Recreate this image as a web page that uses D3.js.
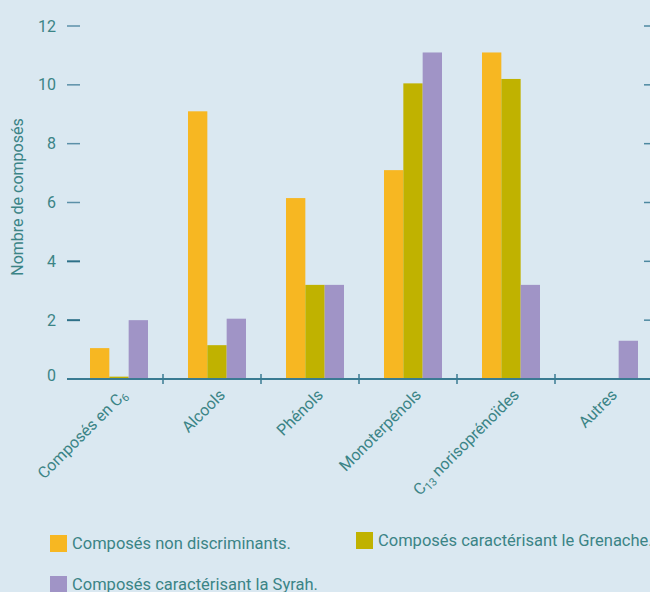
<!DOCTYPE html>
<html>
<head>
<meta charset="utf-8">
<script src="https://cdn.jsdelivr.net/npm/d3@7.9.0/dist/d3.min.js"></script>
<style>
  body { margin: 0; background: #dae8f1; }
  svg { display: block; font-family: Roboto, "Open Sans", sans-serif; }
</style>
</head>
<body>
<svg id="chart" width="650" height="592"></svg>
<script>
// categories and series
const categories = ['C6', 'Alcools', 'Phénols', 'Monoterpénols', 'C13', 'Autres'];
const nonDiscriminants = [1.05, 9.1, 6.15, 7.1, 11.1, 0];
const grenache = [0.08, 1.15, 3.2, 10.05, 10.2, 0];
const syrah = [2.0, 2.05, 3.2, 11.1, 3.2, 1.3];
const yTicks = [0, 2, 4, 6, 8, 10, 12];

const seriesNames = ['Composés non discriminants.', 'Composés caractérisant le Grenache.', 'Composés caractérisant la Syrah.'];
const colors = ['#f7b722', '#c0b200', '#a094c6'];
const textColor = '#3b8486';
const axisColor = '#3a7b92';

const svg = d3.select('#chart');
svg.append('rect').attr('width', 650).attr('height', 592).attr('fill', '#dae8f1');

const x0 = d3.scaleBand().domain(categories).range([67, 655]).paddingInner(0).paddingOuter(0);
const x1 = d3.scaleBand().domain([0, 1, 2]).range([23, 81]);
const y = d3.scaleLinear().domain([0, 12]).range([379, 26]);

const series = [nonDiscriminants, grenache, syrah];

// bars
series.forEach((vals, s) => {
  svg.append('g').selectAll('rect')
    .data(vals)
    .join('rect')
      .attr('x', (d, i) => x0(categories[i]) + x1(s))
      .attr('width', x1.bandwidth())
      .attr('y', d => y(d))
      .attr('height', d => y(0) - y(d))
      .attr('fill', colors[s]);
});

// left axis ticks
const yAxis = svg.append('g');
yTicks.forEach(t => {
  if (t > 0) {
    yAxis.append('line')
      .attr('x1', 67).attr('x2', 80)
      .attr('y1', y(t)).attr('y2', y(t))
      .attr('stroke', t <= 4 ? '#2d7088' : '#5b90a8')
      .attr('stroke-width', t <= 4 ? 2 : 1.5);
    yAxis.append('line')
      .attr('x1', 644).attr('x2', 650)
      .attr('y1', y(t)).attr('y2', y(t))
      .attr('stroke', '#4c88a0').attr('stroke-width', 1.5);
  }
  yAxis.append('text')
    .attr('x', 56).attr('y', t === 0 ? y(t) - 4 : y(t))
    .attr('dy', '0.35em')
    .attr('text-anchor', 'end')
    .attr('fill', textColor)
    .attr('font-size', 16)
    .text(t);
});

// baseline
svg.append('line')
  .attr('x1', 67).attr('x2', 650)
  .attr('y1', y(0)).attr('y2', y(0))
  .attr('stroke', axisColor).attr('stroke-width', 2);

// separators between groups
categories.slice(1).forEach(c => {
  svg.append('line')
    .attr('x1', x0(c) - 2).attr('x2', x0(c) - 2)
    .attr('y1', y(0) - 5).attr('y2', y(0) + 5)
    .attr('stroke', axisColor).attr('stroke-width', 1.5);
});

// y title
svg.append('text')
  .attr('transform', 'translate(23,197) rotate(-90)')
  .attr('text-anchor', 'middle')
  .attr('fill', textColor)
  .attr('font-size', 16)
  .text('Nombre de composés');

// x labels, rotated
const xLabels = svg.append('g');
categories.forEach((c, i) => {
  const t = xLabels.append('text')
    .attr('transform', `translate(${x0(c) + x0.bandwidth() / 2 + 12},${396}) rotate(-45)`)
    .attr('text-anchor', 'end')
    .attr('fill', textColor)
    .attr('font-size', 16);
  if (c === 'C6') {
    t.append('tspan').text('Composés en C');
    t.append('tspan').attr('font-size', 11).attr('dy', 3).text('6');
  } else if (c === 'C13') {
    t.append('tspan').text('C');
    t.append('tspan').attr('font-size', 11).attr('dy', 3).text('13');
    t.append('tspan').attr('dy', -3).text(' norisoprénoïdes');
  } else {
    t.text(c);
  }
});

// legend
const legendPos = [[50, 535], [356, 532], [50, 576]];
seriesNames.forEach((name, s) => {
  const [lx, ly] = legendPos[s];
  svg.append('rect')
    .attr('x', lx).attr('y', ly)
    .attr('width', 17).attr('height', 17)
    .attr('fill', colors[s]);
  svg.append('text')
    .attr('x', lx + 22).attr('y', ly + 14)
    .attr('fill', textColor)
    .attr('font-size', 16.5)
    .text(name);
});
</script>
</body>
</html>
